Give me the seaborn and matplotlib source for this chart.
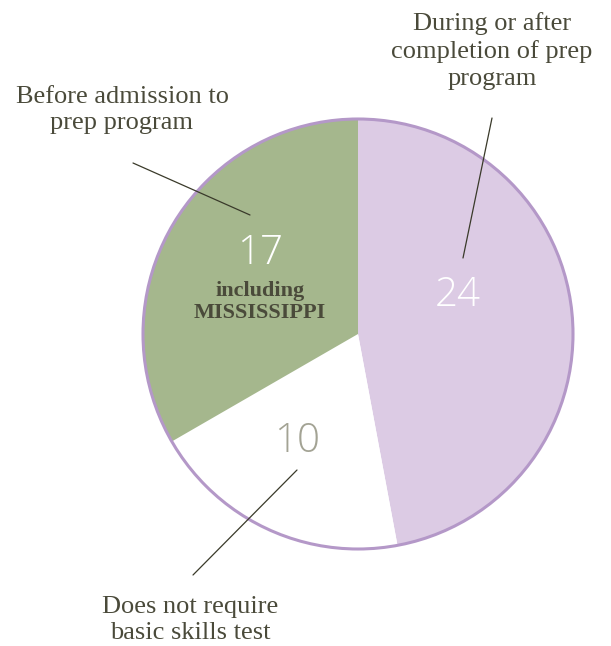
import matplotlib.pyplot as plt
import seaborn as sns
from matplotlib.patches import Circle

# data
categories = ["During or after\ncompletion of prep\nprogram",
              "Does not require\nbasic skills test",
              "Before admission to\nprep program"]
values = [24, 10, 17]
colors = ["#dccbe4", "#ffffff", "#a5b78d"]
num_colors = ["white", "#a3a394", "white"]

sns.set_theme(style="white")
plt.rcParams['font.family'] = ['Liberation Serif', 'DejaVu Serif']

W, H = 611, 646
fig = plt.figure(figsize=(W / 100, H / 100), dpi=100)
ax = fig.add_axes([0, 0, 1, 1])

cx, cy, r = 358, H - 334, 215
wedges, _ = ax.pie(values, colors=colors, startangle=90, counterclock=False,
                   center=(cx, cy), radius=r, frame=False,
                   wedgeprops=dict(linewidth=0))
ax.add_patch(Circle((cx, cy), r, fill=False, edgecolor="#b498c8", lw=2.2, zorder=5))

ax.set_xlim(0, W)
ax.set_ylim(0, H)
ax.set_aspect('auto')
ax.axis('off')

txt = "#4a4a3a"
def py(y):
    return H - y

# numbers
num_pos = [(458, 296), (297, 441), (260, 253)]
for v, (x, y), c in zip(values, num_pos, num_colors):
    ax.text(x, py(y), str(v), ha="center", va="center", fontsize=29,
            family="Open Sans", fontweight="light", color=c)

ax.text(260, py(302), "including\nMISSISSIPPI", ha="center", va="center",
        fontsize=16, fontweight="bold", color=txt, linespacing=1.1)

# category labels
lab_pos = [(492, 51), (190, 620), (122, 110)]
for lab, (x, y) in zip(categories, lab_pos):
    ax.text(x, py(y), lab, ha="center", va="center", fontsize=19,
            color=txt, linespacing=1.27)

# leader lines
lines = [((492, 118), (463, 258)), ((193, 575), (297, 470)), ((133, 163), (250, 215))]
for (x0, y0), (x1, y1) in lines:
    ax.plot([x0, x1], [py(y0), py(y1)], color="#3a3a2a", lw=0.9, zorder=6)

fig.savefig("out.png", dpi=100)
